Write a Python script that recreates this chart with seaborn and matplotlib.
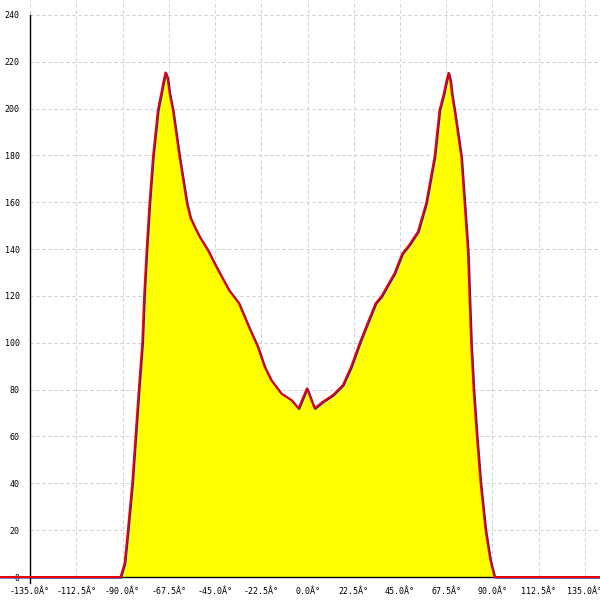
import matplotlib
matplotlib.use("Agg")
import matplotlib.pyplot as plt
import matplotlib.transforms as mtransforms
import seaborn as sns
import pandas as pd

angles = [-150, -91.0, -89.0, -87.4, -85.3, -83.7, -82.1, -80.4, -79.5, -78.3,
          -76.9, -75.2, -72.8, -71.2, -70.0, -69.1, -68.1, -67.1, -65.5, -62.3,
          -58.7, -57.0, -55.0, -52.5, -48.5, -44.4, -38.3, -33.4, -28.6, -24.2,
          -20.9, -17.7, -12.8, -7.9, -4.4, -0.3, 3.4, 7.5, 12.3, 17.2,
          21.2, 25.3, 28.5, 33.1, 35.8, 42.3, 46.0, 49.6, 53.7, 57.7,
          61.8, 64.2, 66.3, 67.6, 68.6, 69.5, 70.2, 71.5, 74.8, 76.4,
          78.0, 78.8, 79.6, 80.8, 82.4, 84.2, 86.6, 88.9, 91.0, 150]
values = [0, 0, 5.9, 20.0, 40.0, 60.0, 80.0, 100.0, 120.0, 139.6,
          159.6, 179.5, 199.4, 206.5, 212.0, 215.5, 213.0, 206.5, 199.4, 179.5,
          159.6, 153.5, 149.6, 145.3, 139.6, 132.5, 122.6, 116.9, 106.9, 98.3,
          89.8, 84.1, 78.4, 75.6, 72.0, 80.6, 72.0, 74.9, 77.7, 82.0,
          89.8, 99.8, 106.9, 116.9, 119.7, 129.7, 138.0, 142.0, 147.5, 159.6,
          179.5, 199.4, 206.5, 212.0, 215.3, 212.0, 206.5, 199.4, 179.5, 159.6,
          139.6, 119.7, 99.8, 79.9, 59.9, 40.0, 20.1, 7.3, 0, 0]

x_ticks = [-135.0, -112.5, -90.0, -67.5, -45.0, -22.5, 0.0, 22.5, 45.0, 67.5, 90.0, 112.5, 135.0]
x_tick_labels = [f"{v:.1f}Â°" for v in x_ticks]
y_ticks = [0, 20, 40, 60, 80, 100, 120, 140, 160, 180, 200, 220, 240]

df = pd.DataFrame({"angle": angles, "value": values})

sns.set_style("white")
plt.rcParams["font.family"] = ["DejaVu Sans Mono", "DejaVu Sans"]

fig = plt.figure(figsize=(6, 6), dpi=100)
ax = fig.add_axes([0, 0, 1, 1])
XMIN, XMAX = -149.6, 142.3
YMIN, YMAX = -9.82, 246.4
ax.set_xlim(XMIN, XMAX)
ax.set_ylim(YMIN, YMAX)

# grid
ax.vlines(x_ticks, 0, YMAX, colors="#cccccc", linestyles=(0, (3, 3)), linewidth=0.72, zorder=1)
ax.hlines(y_ticks[1:], -135, XMAX, colors="#cccccc", linestyles=(0, (3, 3)), linewidth=0.72, zorder=1)

ax.fill_between(df["angle"], df["value"], 0, color="#ffff00", linewidth=0, zorder=2)

off = mtransforms.offset_copy(ax.transData, fig=fig, x=0.8, y=-0.6, units="dots")
sns.lineplot(data=df, x="angle", y="value", sort=False, estimator=None, ax=ax,
             color="#2020c0", linewidth=1.4, transform=off, zorder=3)
sns.lineplot(data=df, x="angle", y="value", sort=False, estimator=None, ax=ax,
             color="#ee0000", linewidth=1.4, zorder=4)

for s in ["top", "right"]:
    ax.spines[s].set_visible(False)
ax.spines["left"].set_position(("data", -135))
ax.spines["left"].set_bounds(-2.5, 240)
ax.spines["bottom"].set_position(("data", 0))
ax.spines["bottom"].set_bounds(-135, XMAX)
for s in ["left", "bottom"]:
    ax.spines[s].set_color("black")
    ax.spines[s].set_linewidth(1)
    ax.spines[s].set_zorder(3.5)

ax.set_xticks(x_ticks)
ax.set_xticklabels(x_tick_labels)
ax.set_yticks(y_ticks)
ax.set_yticklabels([str(v) for v in y_ticks])
ax.tick_params(axis="both", direction="inout", length=7, width=1, color="black",
               labelsize=6, labelcolor="black")
ax.tick_params(axis="x", pad=4)
ax.tick_params(axis="y", pad=4)
ax.set_xlabel("")
ax.set_ylabel("")

fig.savefig("out.png", dpi=100)
